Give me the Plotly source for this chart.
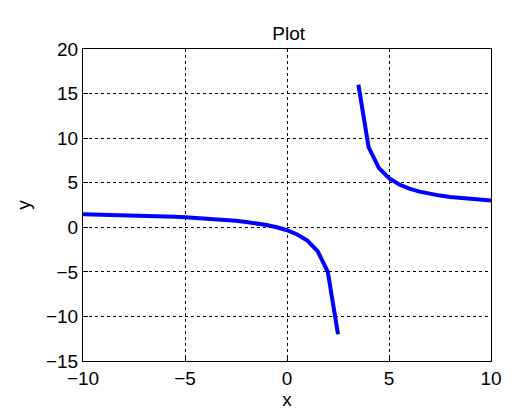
import plotly.graph_objects as go

x_left = [-10, -9.5, -9, -8.5, -8, -7.5, -7, -6.5, -6, -5.5, -5, -4.5, -4, -3.5, -3, -2.5, -2, -1.5, -1, -0.5, 0, 0.5, 1, 1.5, 2, 2.5]
y_left = [1.46, 1.44, 1.417, 1.391, 1.364, 1.333, 1.3, 1.263, 1.222, 1.176, 1.125, 1.067, 1.0, 0.923, 0.833, 0.727, 0.6, 0.444, 0.25, 0.0, -0.333, -0.8, -1.5, -2.667, -5, -12]
x_right = [3.5, 4, 4.5, 5, 5.5, 6, 6.5, 7, 7.5, 8, 8.5, 9, 9.5, 10]
y_right = [16, 9, 6.667, 5.5, 4.8, 4.333, 4.0, 3.75, 3.556, 3.4, 3.273, 3.167, 3.077, 3.0]

fig = go.Figure()
for xs, ys in [(x_left, y_left), (x_right, y_right)]:
    fig.add_trace(go.Scatter(x=xs, y=ys, mode="lines", line=dict(color="#0000ff", width=4), showlegend=False))

ax = dict(showline=True, linecolor="black", linewidth=1, mirror=True, ticks="inside", ticklen=5,
          tickcolor="black", showgrid=True, gridcolor="black", griddash="dot", gridwidth=1,
          zeroline=False, automargin=False, tickfont=dict(size=19, color="black"))
fig.update_layout(
    width=515, height=417, paper_bgcolor="white", plot_bgcolor="white",
    margin=dict(l=75, r=32, t=41, b=64),
    font=dict(family="Liberation Sans, Arial", color="black"),
    title=dict(text="Plot", x=0.545, xanchor="center", y=0.955, font=dict(size=19)),
    xaxis=dict(ax, range=[-10, 10], dtick=5, title=dict(text="x", font=dict(size=19), standoff=2)),
    yaxis=dict(ax, range=[-15, 20], dtick=5, title=dict(text="y", font=dict(size=19), standoff=10)),
)
fig.write_html("out.html")
